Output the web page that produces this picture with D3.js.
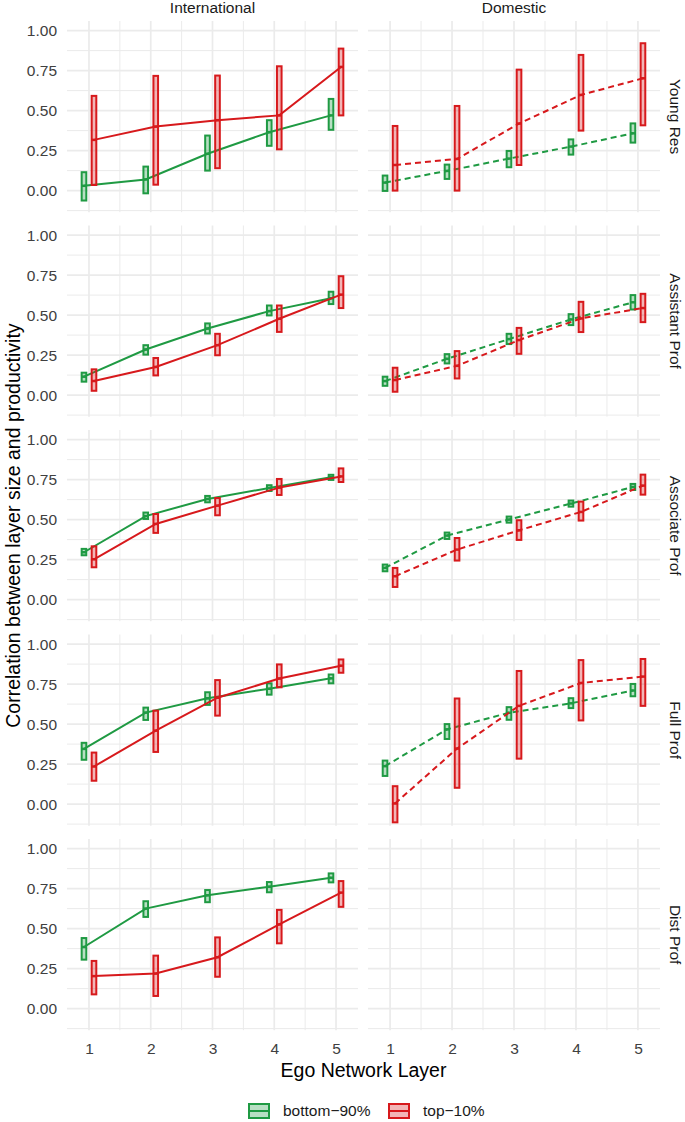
<!DOCTYPE html>
<html><head><meta charset="utf-8">
<script src="https://cdn.jsdelivr.net/npm/d3@7"></script>
<style>body{margin:0;background:#fff}svg{display:block}text{font-family:"Liberation Sans",Arial,sans-serif}</style>
</head><body><svg id="c" width="685" height="1122"></svg>
<script>
// ---- data ----
const layers = [1, 2, 3, 4, 5];
const scopes = ["International", "Domestic"];
const positions = ["Young Res", "Assistant Prof", "Associate Prof", "Full Prof", "Dist Prof"];
const groups = ["bottom\u221290%", "top\u221210%"];
const yTicks = [0, 0.25, 0.5, 0.75, 1];

// International, bottom-90%
const intlBottomMean = [[0.03,0.07,0.23,0.365,0.47],[0.115,0.285,0.416,0.525,0.605],[0.296,0.522,0.629,0.698,0.765],[0.345,0.572,0.661,0.721,0.786],[0.385,0.625,0.708,0.762,0.818]];
const intlBottomLo   = [[-0.062,-0.017,0.125,0.28,0.38],[0.084,0.253,0.385,0.498,0.569],[0.277,0.504,0.608,0.679,0.748],[0.277,0.526,0.62,0.684,0.755],[0.306,0.573,0.665,0.727,0.789]];
const intlBottomHi   = [[0.115,0.15,0.344,0.44,0.573],[0.14,0.312,0.448,0.56,0.646],[0.317,0.544,0.648,0.715,0.78],[0.383,0.603,0.699,0.755,0.81],[0.441,0.671,0.741,0.791,0.845]];
// International, top-10%
const intlTopMean = [[0.317,0.40,0.44,0.47,0.773],[0.088,0.176,0.312,0.477,0.628],[0.252,0.473,0.5875,0.70,0.77],[0.235,0.459,0.665,0.785,0.865],[0.203,0.219,0.321,0.526,0.725]];
const intlTopLo   = [[0.035,0.037,0.14,0.258,0.47],[0.027,0.123,0.249,0.395,0.544],[0.202,0.417,0.527,0.654,0.735],[0.146,0.326,0.553,0.73,0.821],[0.089,0.079,0.199,0.408,0.636]];
const intlTopHi   = [[0.592,0.717,0.719,0.777,0.8875],[0.161,0.232,0.383,0.56,0.743],[0.333,0.535,0.635,0.754,0.82],[0.322,0.584,0.775,0.873,0.904],[0.298,0.331,0.445,0.617,0.797]];
// Domestic, bottom-90% (no Dist Prof)
const domBottomMean = [[0.05,0.123,0.2,0.275,0.358],[0.0875,0.227,0.35,0.473,0.58],[0.198,0.4,0.5,0.6,0.704],[0.237,0.467,0.571,0.63,0.71],null];
const domBottomLo   = [[-0.002,0.073,0.146,0.225,0.3],[0.058,0.198,0.319,0.4375,0.535],[0.177,0.379,0.481,0.581,0.685],[0.176,0.407,0.527,0.6,0.674],null];
const domBottomHi   = [[0.094,0.1625,0.248,0.32,0.42],[0.115,0.256,0.383,0.506,0.625],[0.219,0.419,0.519,0.619,0.723],[0.272,0.5,0.606,0.662,0.751],null];
// Domestic, top-10%
const domTopMean = [[0.16,0.198,0.419,0.598,0.702],[0.094,0.183,0.344,0.479,0.544],[0.146,0.3125,0.433,0.548,0.7125],[0.004,0.347,0.614,0.757,0.797],null];
const domTopLo   = [[0.0,0.0,0.16,0.375,0.408],[0.021,0.104,0.258,0.394,0.456],[0.079,0.244,0.373,0.494,0.656],[-0.114,0.102,0.284,0.523,0.614],null];
const domTopHi   = [[0.404,0.529,0.756,0.848,0.921],[0.171,0.275,0.42,0.583,0.633],[0.198,0.385,0.496,0.6125,0.781],[0.112,0.66,0.832,0.9,0.907],null];

const series = {
  International: [[intlBottomMean, intlBottomLo, intlBottomHi], [intlTopMean, intlTopLo, intlTopHi]],
  Domestic: [[domBottomMean, domBottomLo, domBottomHi], [domTopMean, domTopLo, domTopHi]]
};

// ---- layout ----
const colors = ["#1f9a43", "#d7191c"];
const fillOp = 0.32;
const panelX = [[67, 358], [368, 660]];
const panelH = 191.2, rowStep = 204.5, top0 = 21;
const dodge = 0.081, boxW = 0.075;
const svg = d3.select("#c");
const grid = "#ebebeb";

scopes.forEach((scope, c) => {
  const x = d3.scaleLinear().domain([0.644, 5.356]).range(panelX[c]);
  positions.forEach((pos, r) => {
    const t = top0 + r * rowStep;
    const y = d3.scaleLinear().domain([-0.135, 1.06]).range([t + panelH, t]);
    const g = svg.append("g");
    // minor grid
    const minX = [1.5, 2.5, 3.5, 4.5];
    const minY = [-0.125, 0.125, 0.375, 0.625, 0.875];
    g.selectAll(".mx").data(minX).join("line").attr("x1", d => x(d)).attr("x2", d => x(d))
      .attr("y1", t).attr("y2", t + panelH).attr("stroke", grid).attr("stroke-width", 1);
    g.selectAll(".my").data(minY).join("line").attr("y1", d => y(d)).attr("y2", d => y(d))
      .attr("x1", panelX[c][0]).attr("x2", panelX[c][1]).attr("stroke", grid).attr("stroke-width", 1);
    g.selectAll(".Mx").data(layers).join("line").attr("x1", d => x(d)).attr("x2", d => x(d))
      .attr("y1", t).attr("y2", t + panelH).attr("stroke", grid).attr("stroke-width", 1.7);
    g.selectAll(".My").data(yTicks).join("line").attr("y1", d => y(d)).attr("y2", d => y(d))
      .attr("x1", panelX[c][0]).attr("x2", panelX[c][1]).attr("stroke", grid).attr("stroke-width", 1.7);

    if (c === 0) {
      const ax = svg.append("g").attr("transform", `translate(${panelX[0][0]},0)`)
        .call(d3.axisLeft(y).tickValues(yTicks).tickFormat(d3.format(".2f")).tickSize(0).tickPadding(10));
      ax.select(".domain").remove();
      ax.selectAll("text").attr("font-size", 15.5).attr("fill", "#404040")
        .style("font-family", '"Liberation Sans",Arial,sans-serif');
    }
    if (c === 1) {
      svg.append("text").attr("transform", `translate(675,${t + panelH / 2}) rotate(90)`)
        .attr("text-anchor", "middle").attr("dy", "0.35em").attr("font-size", 15.5).attr("fill", "#1a1a1a").text(pos);
    }
    if (r === positions.length - 1) {
      const ax = svg.append("g").attr("transform", `translate(0,${t + panelH})`)
        .call(d3.axisBottom(x).tickValues(layers).tickFormat(d3.format("d")).tickSize(0).tickPadding(13));
      ax.select(".domain").remove();
      ax.selectAll("text").attr("font-size", 15.5).attr("fill", "#404040")
        .style("font-family", '"Liberation Sans",Arial,sans-serif');
    }

    series[scope].forEach((s, gi) => {
      const [mean, lo, hi] = s.map(a => a[r]);
      if (!mean) return;
      const off = gi === 0 ? -dodge : dodge;
      const pts = layers.map((l, i) => ({ x: l + off, m: mean[i], lo: lo[i], hi: hi[i] }));
      const col = colors[gi];
      // crossbars
      const bw = x(boxW) - x(0);
      g.selectAll(null).data(pts).join("rect")
        .attr("x", d => x(d.x) - bw / 2).attr("width", bw)
        .attr("y", d => y(d.hi)).attr("height", d => y(d.lo) - y(d.hi))
        .attr("fill", col).attr("fill-opacity", fillOp).attr("stroke", col).attr("stroke-width", 2);
      g.selectAll(null).data(pts).join("line")
        .attr("x1", d => x(d.x) - bw / 2).attr("x2", d => x(d.x) + bw / 2)
        .attr("y1", d => y(d.m)).attr("y2", d => y(d.m)).attr("stroke", col).attr("stroke-width", 2.5);
      // line
      g.append("path").datum(pts)
        .attr("d", d3.line().x(d => x(d.x)).y(d => y(d.m)))
        .attr("fill", "none").attr("stroke", col).attr("stroke-width", 2)
        .attr("stroke-dasharray", scope === "Domestic" ? "6,4" : null);
    });
  });
  // strip title
  svg.append("text").attr("x", (panelX[c][0] + panelX[c][1]) / 2).attr("y", 12.5)
    .attr("text-anchor", "middle").attr("font-size", 15.5).attr("fill", "#1a1a1a").text(scope);
});

// axis titles
svg.append("text").attr("x", (panelX[0][0] + panelX[1][1]) / 2).attr("y", 1077)
  .attr("text-anchor", "middle").attr("font-size", 19.5).attr("fill", "#000").text("Ego Network Layer");
svg.append("text").attr("transform", `translate(20,${top0 + (4 * rowStep + panelH) / 2}) rotate(-90)`)
  .attr("text-anchor", "middle").attr("font-size", 19.5).attr("fill", "#000")
  .text("Correlation between layer size and productivity");

// legend
const legX = [248, 388];
groups.forEach((gname, gi) => {
  const lg = svg.append("g").attr("transform", `translate(${legX[gi]},1103)`);
  lg.append("rect").attr("x", 1).attr("y", 1).attr("width", 20).attr("height", 14)
    .attr("fill", colors[gi]).attr("fill-opacity", fillOp).attr("stroke", colors[gi]).attr("stroke-width", 2);
  lg.append("line").attr("x1", 1).attr("x2", 21).attr("y1", 8).attr("y2", 8).attr("stroke", colors[gi]).attr("stroke-width", 2);
  lg.append("text").attr("x", 35).attr("y", 8).attr("dy", "0.35em").attr("font-size", 15.5).attr("fill", "#1a1a1a").text(gname);
});
</script></body></html>
